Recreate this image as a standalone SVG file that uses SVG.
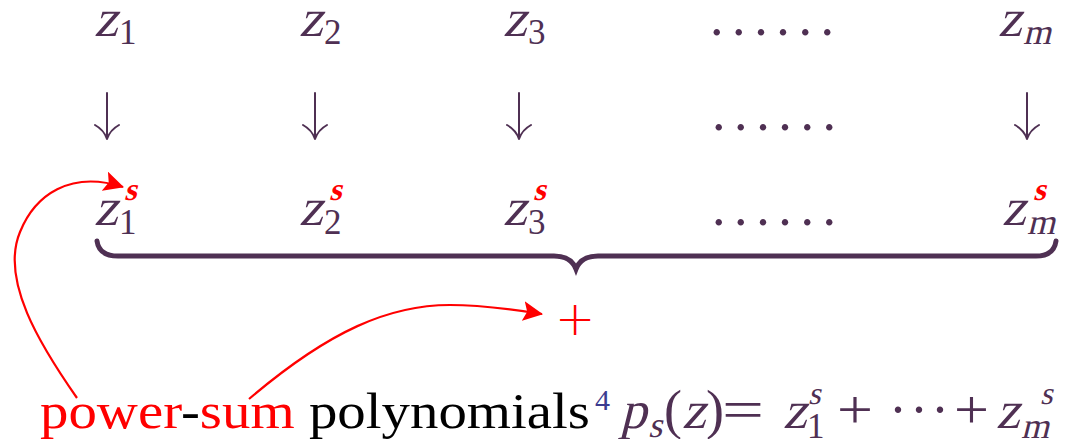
<svg xmlns="http://www.w3.org/2000/svg" width="1090" height="439" viewBox="0 0 1090 439">
<defs>
<style>
.m{font-family:'Liberation Serif',Lato,serif;font-size:53px;fill:#4f3053}
.r{font-family:'Liberation Serif',Lato,serif;font-size:54px;fill:#4f3053}
.sub{font-family:'Liberation Serif',Lato,serif;font-size:35px;fill:#4f3053}
.subi{font-family:'Liberation Serif',Lato,serif;font-size:36px;fill:#4f3053}
.sup{font-family:'Liberation Serif',Lato,serif;font-size:32px;fill:#4f3053}
.sr{font-family:'Liberation Serif',Lato,serif;font-weight:bold;font-size:32px;fill:#ff0000}
.dots{font-family:'Liberation Serif',Lato,serif;font-size:54px;fill:#4f3053;letter-spacing:8.6px}
.t{font-family:'Liberation Serif',Lato,serif;font-size:50px;fill:#000}
.red{fill:#ff0000}
.arr{fill:none;stroke:#4f3053;stroke-width:2;stroke-linecap:round;stroke-linejoin:round}
.curve{fill:none;stroke:#ff0000;stroke-width:2.2}
</style>
<marker id="rh" viewBox="0 0 20 20" refX="19" refY="10" markerWidth="20" markerHeight="20" markerUnits="userSpaceOnUse" orient="auto">
<path d="M0,0 L20,10 L0,20 L4,10 Z" fill="#ff0000"/>
</marker>
</defs>
<rect width="1090" height="439" fill="#fff"/>

<g id="row1">
<g id="z1"><text class="m" transform="translate(94,36) skewX(-14)">z</text><text class="sub" x="119" y="44">1</text></g>
<g id="z2"><text class="m" transform="translate(299,36) skewX(-14)">z</text><text class="sub" x="324" y="44">2</text></g>
<g id="z3"><text class="m" transform="translate(503,36) skewX(-14)">z</text><text class="sub" x="528" y="44">3</text></g>
<g id="dots1"><text class="dots" x="710" y="35">......</text></g>
<g id="zm"><text class="m" transform="translate(998,36) skewX(-14)">z</text><text class="subi" transform="translate(1023,44) skewX(-14)">m</text></g>
</g>

<g id="connectors">
<path class="arr" d="M107,93 V139 M95,125 Q104,130 107,139 Q110,130 119,125"/>
<path class="arr" d="M315,93 V139 M303,125 Q312,130 315,139 Q318,130 327,125"/>
<path class="arr" d="M519,93 V139 M507,125 Q516,130 519,139 Q522,130 531,125"/>
<path class="arr" d="M1027,93 V139 M1015,125 Q1024,130 1027,139 Q1030,130 1039,125"/>
<path class="curve" d="M77,398 C40,345 0,280 20,232 C35,195 70,170 123,187" marker-end="url(#rh)"/>
<path class="curve" d="M249,399 C330,330 390,305 450,305 C480,305 510,309 542,314" marker-end="url(#rh)"/>
</g>

<g id="dots2"><text class="dots" x="712" y="130">......</text></g>

<g id="row3">
<g id="z1s"><text class="m" transform="translate(94,225) skewX(-14)">z</text><text class="sub" x="119" y="234">1</text><text class="sr" transform="translate(124,200) skewX(-14)">s</text></g>
<g id="z2s"><text class="m" transform="translate(299,225) skewX(-14)">z</text><text class="sub" x="324" y="234">2</text><text class="sr" transform="translate(329,200) skewX(-14)">s</text></g>
<g id="z3s"><text class="m" transform="translate(503,225) skewX(-14)">z</text><text class="sub" x="528" y="234">3</text><text class="sr" transform="translate(533,200) skewX(-14)">s</text></g>
<g id="dots3"><text class="dots" x="712" y="225">......</text></g>
<g id="zms"><text class="m" transform="translate(1002,225) skewX(-14)">z</text><text class="subi" transform="translate(1027,234) skewX(-14)">m</text><text class="sr" transform="translate(1033,200) skewX(-14)">s</text></g>
</g>

<g id="brace">
<path d="M97,241 Q99,256 118,256 L554,256 Q571,256 576,269 Q581,256 598,256 L1036,256 Q1054,256 1056,241" fill="none" stroke="#4f3053" stroke-width="5" stroke-linecap="round"/>
</g>

<g id="plus"><text x="575" y="335" text-anchor="middle" font-family="DejaVu Sans, sans-serif" font-weight="200" font-size="48" fill="#ff0000">+</text></g>

<g id="caption">
<text class="t" x="40" y="428" textLength="550" lengthAdjust="spacingAndGlyphs"><tspan class="red">power</tspan>-<tspan class="red">sum</tspan> polynomials</text>
<text x="595" y="410" font-family="'Liberation Serif',Lato,serif" font-size="30" fill="#3b3b8f">4</text>
<text class="m" transform="translate(620,428) skewX(-14)">p</text><text class="subi" transform="translate(648,437) skewX(-14)">s</text>
<text class="r" x="664" y="428">(</text><text class="m" transform="translate(682,428) skewX(-14)">z</text><text class="r" x="706" y="428">)</text>
<text class="r" x="722" y="428" textLength="42" lengthAdjust="spacingAndGlyphs">=</text>
<text class="m" transform="translate(783,428) skewX(-14)">z</text><text class="sub" x="807" y="438">1</text><text class="sup" transform="translate(808,404) skewX(-14)">s</text>
<text class="r" x="837" y="428" textLength="36" lengthAdjust="spacingAndGlyphs">+</text>
<text class="r" x="889" y="428" letter-spacing="3">···</text>
<text class="r" x="954" y="428" textLength="35" lengthAdjust="spacingAndGlyphs">+</text>
<text class="m" transform="translate(996,428) skewX(-14)">z</text><text class="subi" transform="translate(1021,438) skewX(-14)">m</text><text class="sup" transform="translate(1040,404) skewX(-14)">s</text>
</g>
</svg>
